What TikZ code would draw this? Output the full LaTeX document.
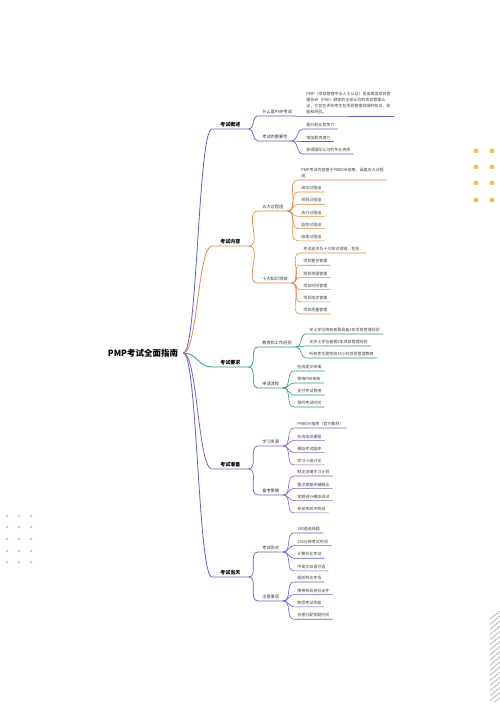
\documentclass[tikz,border=0pt]{standalone}
\usepackage{fontspec}
\setmainfont{Noto Sans CJK SC}
\usepackage{xcolor}
\usetikzlibrary{calc}
\definecolor{bOv}{HTML}{5B5FCF}
\definecolor{bCt}{HTML}{E8843C}
\definecolor{bRq}{HTML}{2E9E6A}
\definecolor{bPr}{HTML}{8A5BC8}
\definecolor{bDy}{HTML}{5661D6}
\definecolor{dotY}{HTML}{F4BD1F}
\definecolor{dotG}{HTML}{CDCDCD}
\tikzset{
  root/.style={font=\fontsize{8.5}{10}\selectfont\bfseries, inner xsep=5pt},
  topic/.style={font=\fontsize{5}{6}\selectfont\bfseries, anchor=south west, inner xsep=8pt, inner ysep=2pt},
  sub/.style={font=\fontsize{4.2}{6}\selectfont, text=black!80, anchor=south west, inner xsep=4pt, inner ysep=1.6pt},
  leaf/.style={font=\fontsize{4}{6}\selectfont, text=black!75, anchor=south west, inner xsep=3pt, inner ysep=1.6pt},
  link/.style={out=0,in=180},
}
% #1 parent, #2 x, #3 first y, #4 step, #5 texts
\newcommand{\leaves}[5]{%
  \foreach \t [count=\i] in {#5} {
    \node[leaf] (#1-\i) at (#2,{#3+#4*(\i-1)}) {\t};
    \draw (#1.south east) to[link] (#1-\i.south west) -- (#1-\i.south east);
  }}

\begin{document}
\begin{tikzpicture}[x=1pt,y=-1pt,line width=0.6pt]
\fill[white] (0,0) rectangle (500,707);
\useasboundingbox (0,0) rectangle (500,707);

% centre and main topics
\node[root] (root) at (143,353) {PMP考试全面指南};
\node[topic] (ov) at (212,129) {考试概述};
\node[topic] (ct) at (212,246) {考试内容};
\node[topic] (rq) at (212,367) {考试要求};
\node[topic] (pr) at (212,469) {考试准备};
\node[topic] (dy) at (212,577) {考试当天};
\foreach \n/\c in {ov/bOv,ct/bCt,rq/bRq,pr/bPr,dy/bDy}
  \draw[\c,line width=0.8pt] (root.east) .. controls +(14,0) and +(-14,0) .. (\n.south west) -- (\n.south east);

% second level
\node[sub] (ov1) at (258,116) {什么是PMP考试};
\node[sub] (ov2) at (258,141) {考试的重要性};
\node[sub] (ct1) at (258,211) {五大过程组};
\node[sub] (ct2) at (258,283) {十大知识领域};
\node[sub] (rq1) at (258,347) {教育和工作经验};
\node[sub] (rq2) at (258,388) {申请流程};
\node[sub] (pr1) at (258,446) {学习资源};
\node[sub] (pr2) at (258,495) {备考策略};
\node[sub] (dy1) at (258,552) {考试形式};
\node[sub] (dy2) at (258,601) {注意事项};
\foreach \p/\n/\c in {ov/ov1/bOv,ov/ov2/bOv,ct/ct1/bCt,ct/ct2/bCt,rq/rq1/bRq,
    rq/rq2/bRq,pr/pr1/bPr,pr/pr2/bPr,dy/dy1/bDy,dy/dy2/bDy}
  \draw[\c,line width=0.7pt] (\p.south east) to[link] (\n.south west) -- (\n.south east);

% leaves
\begin{scope}[draw=bOv]
\node[leaf,align=left] (ov1-1) at (303,116) {PMP（项目管理专业人士认证）是由美国项目管\\理协会（PMI）颁发的全球认可的项目管理认\\证，它旨在评估考生在项目管理领域的知识、技\\能和经验。};
\draw (ov1.south east) to[link] (ov1-1.south west) -- (ov1-1.south east);
\leaves{ov2}{303}{129}{12.5}{提升职业竞争力,增加薪资潜力,获得国际认可的专业资质}
\end{scope}

\begin{scope}[draw=bCt]
\node[leaf,align=left] (ct1-0) at (298,180) {PMP考试内容基于PMBOK指南，涵盖五大过程\\组：};
\draw (ct1.south east) to[link] (ct1-0.south west) -- (ct1-0.south east);
\leaves{ct1}{298}{192}{12.2}{启动过程组,规划过程组,执行过程组,监控过程组,收尾过程组}
\leaves{ct2}{300}{253}{12.2}{考试还涉及十大知识领域，包括：,项目整合管理,项目范围管理,项目时间管理,项目成本管理,项目质量管理}
\end{scope}

\begin{scope}[draw=bRq]
\leaves{rq1}{306}{334}{12}{学士学位持有者需具备3年项目管理经验,无学士学位者需5年项目管理经验,所有考生需完成35小时项目管理教育}
\leaves{rq2}{294}{371}{12}{在线提交申请,等待PMI审核,支付考试费用,预约考试时间}
\end{scope}

\begin{scope}[draw=bPr]
\leaves{pr1}{294}{428}{12.3}{PMBOK指南（官方教材）,在线培训课程,模拟考试题库,学习小组讨论}
\leaves{pr2}{294}{476}{12.3}{制定详细学习计划,重点掌握关键概念,定期进行模拟测试,参加考前冲刺班}
\end{scope}

\begin{scope}[draw=bDy]
\leaves{dy1}{294}{533}{12.6}{180道选择题,230分钟考试时间,计算机化考试,中英文双语可选}
\leaves{dy2}{294}{582}{12.4}{提前到达考场,携带有效身份证件,熟悉考试界面,合理分配答题时间}
\end{scope}

% decoration
\foreach \x in {476,492} \foreach \y in {151,167,183,200}
  \fill[dotY] (\x,\y) circle (2.3pt);
\foreach \x in {7,19,31} \foreach \y in {516,527,539,551,562}
  \fill[dotG] (\x,\y) circle (1.5pt);
\begin{scope}
\clip (490,611) rectangle (500,701);
\foreach \k in {0,...,18}
  \draw[gray!45,line width=1.1pt] (489,{620+5.1*\k}) -- (501,{610+5.1*\k});
\end{scope}
\end{tikzpicture}
\end{document}
